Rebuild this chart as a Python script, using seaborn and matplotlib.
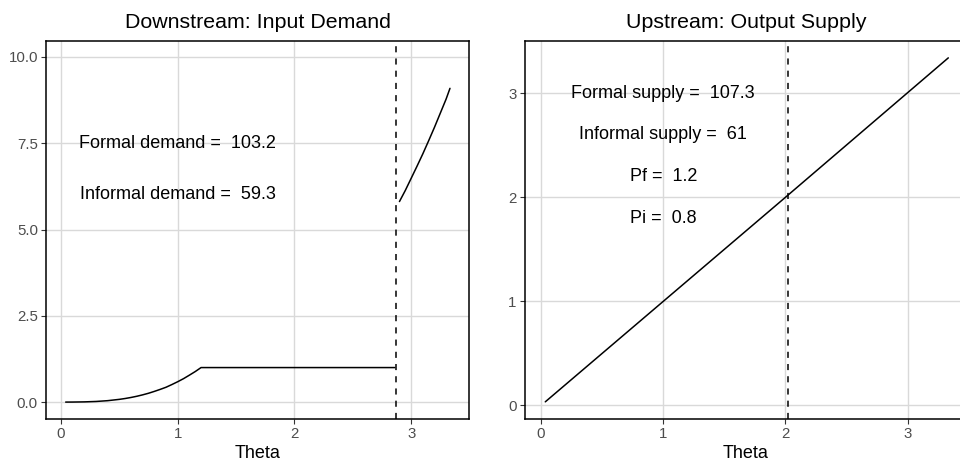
import numpy as np
import pandas as pd
import matplotlib
matplotlib.use("Agg")
import matplotlib.pyplot as plt
import seaborn as sns

# ---- data ----
theta_low = [0.04, 0.1, 0.2, 0.3, 0.4, 0.5, 0.55, 0.6, 0.65, 0.7, 0.75, 0.8, 0.85,
             0.9, 0.95, 1.0, 1.05, 1.1, 1.15, 1.2, 2.86]
demand_low = [0.0, 0.001, 0.006, 0.018, 0.041, 0.079, 0.104, 0.134, 0.169, 0.21, 0.256,
              0.31, 0.368, 0.43, 0.508, 0.59, 0.679, 0.78, 0.884, 1.0, 1.0]
theta_high = [2.90, 2.95, 3.0, 3.05, 3.1, 3.15, 3.2, 3.25, 3.3, 3.333]
demand_high = [5.81, 6.13, 6.48, 6.83, 7.19, 7.57, 7.96, 8.37, 8.78, 9.09]
demand_cutoff = 2.87

theta_sup = [0.035, 1.0, 2.0, 3.333]
supply = [0.035, 1.0, 2.0, 3.34]
supply_cutoff = 2.02

titles = ["Downstream: Input Demand", "Upstream: Output Supply"]
xlabel = "Theta"
left_labels = ["Formal demand =  103.2", "Informal demand =  59.3"]
left_label_y = [7.5, 6.0]
right_labels = ["Formal supply =  107.3", "Informal supply =  61", "Pf =  1.2", "Pi =  0.8"]
right_label_y = [3.0, 2.6, 2.2, 1.8]
label_x = 1.0

left_xticks = [0, 1, 2, 3]
left_yticks = [0.0, 2.5, 5.0, 7.5, 10.0]
right_xticks = [0, 1, 2, 3]
right_yticks = [0, 1, 2, 3]

# ---- style ----
sns.set_theme(style="ticks")
plt.rcParams['font.family'] = ['Liberation Sans', 'DejaVu Sans']

W, H, DPI = 960, 466, 100
fig = plt.figure(figsize=(W / DPI, H / DPI), dpi=DPI)

def px_axes(x0, x1, y0, y1):
    return fig.add_axes([x0 / W, (H - y1) / H, (x1 - x0) / W, (y1 - y0) / H])

axL = px_axes(46.3, 469.0, 40.7, 419.0)
axR = px_axes(525.0, 967.0, 40.7, 419.0)

GRID = "#D9D9D9"
TICKC = "#4D4D4D"

def style(ax, xticks, yticks, yfmt):
    ax.set_facecolor("white")
    ax.set_xticks(xticks)
    ax.set_yticks(yticks)
    ax.set_yticklabels([yfmt(v) for v in yticks])
    ax.grid(True, color=GRID, linewidth=1.0, zorder=0)
    ax.set_axisbelow(True)
    for s in ax.spines.values():
        s.set_visible(True)
        s.set_color("black")
        s.set_linewidth(1.1)
    ax.tick_params(axis="both", direction="out", length=3.5, width=0.8,
                   color="#333333", labelcolor=TICKC, labelsize=10.8, pad=2.5)
    ax.set_xlabel(xlabel, fontsize=13, color="black", labelpad=3)
    ax.set_ylabel("")

# Left panel
df_lo = pd.DataFrame({"Theta": theta_low, "Demand": demand_low})
df_hi = pd.DataFrame({"Theta": theta_high, "Demand": demand_high})
sns.lineplot(data=df_lo, x="Theta", y="Demand", ax=axL, color="black", linewidth=1.1, zorder=3)
sns.lineplot(data=df_hi, x="Theta", y="Demand", ax=axL, color="black", linewidth=1.1, zorder=3)
axL.axvline(demand_cutoff, color="black", linewidth=1.1, linestyle=(0, (4, 4)), zorder=3)
axL.set_xlim(-0.126, 3.496)
axL.set_ylim(-0.49, 10.47)
style(axL, left_xticks, left_yticks, lambda v: f"{v:.1f}")
for t, y in zip(left_labels, left_label_y):
    axL.text(label_x, y, t, ha="center", va="center", fontsize=13, color="black")
axL.set_title(titles[0], fontsize=15.4, color="black", pad=9.5)

# Right panel
df_s = pd.DataFrame({"Theta": theta_sup, "Supply": supply})
sns.lineplot(data=df_s, x="Theta", y="Supply", ax=axR, color="black", linewidth=1.1, zorder=3)
axR.axvline(supply_cutoff, color="black", linewidth=1.1, linestyle=(0, (4, 4)), zorder=3)
axR.set_xlim(-0.131, 3.486)
axR.set_ylim(-0.13, 3.505)
style(axR, right_xticks, right_yticks, lambda v: f"{v:d}")
for t, y in zip(right_labels, right_label_y):
    axR.text(label_x, y, t, ha="center", va="center", fontsize=13, color="black")
axR.set_title(titles[1], fontsize=15.4, color="black", pad=9.5)

fig.savefig("out.png", dpi=DPI, facecolor="white")
